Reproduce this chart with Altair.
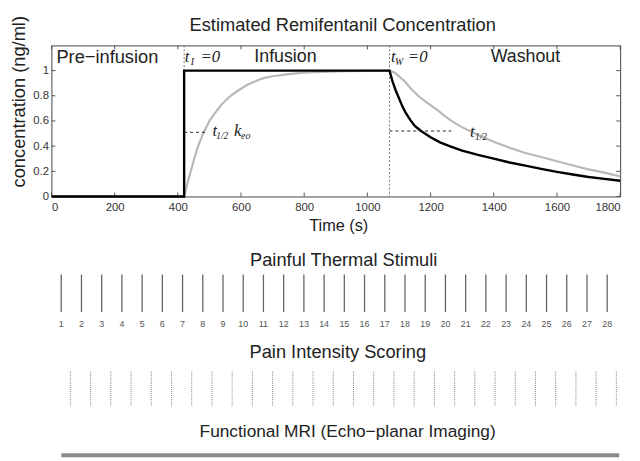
import altair as alt
import pandas as pd

# ---------------- data ----------------
black_t = [0, 420, 420, 1070, 1080, 1090, 1100, 1110, 1120, 1135, 1150, 1170, 1200, 1230,
           1260, 1300, 1350, 1400, 1450, 1500, 1550, 1600, 1650, 1700, 1750, 1800]
black_v = [0, 0, 1.0, 1.0, 0.91, 0.84, 0.78, 0.72, 0.67, 0.61, 0.56, 0.52, 0.47, 0.43,
           0.40, 0.365, 0.33, 0.30, 0.27, 0.245, 0.22, 0.195, 0.175, 0.155, 0.14, 0.125]

gray_t = [0, 420, 430, 441, 452, 462, 472, 483, 500, 515, 540, 567, 590, 619, 645, 671, 700,
          744, 790, 827, 880, 931, 1000, 1070, 1085, 1098, 1120, 1140, 1165, 1192, 1220, 1244,
          1270, 1296, 1348, 1400, 1452, 1500, 1556, 1600, 1660, 1700, 1750, 1800]
gray_v = [0, 0, 0.10, 0.20, 0.30, 0.385, 0.45, 0.515, 0.60, 0.655, 0.735, 0.80, 0.84, 0.885,
          0.915, 0.94, 0.955, 0.97, 0.982, 0.987, 0.992, 0.995, 0.998, 1.0, 0.985, 0.96, 0.91,
          0.85, 0.79, 0.74, 0.69, 0.64, 0.595, 0.555, 0.49, 0.435, 0.385, 0.345, 0.31, 0.28,
          0.24, 0.215, 0.19, 0.16]

x_ticks = [0, 200, 400, 600, 800, 1000, 1200, 1400, 1600, 1800]
y_ticks = [0, 0.2, 0.4, 0.6, 0.8, 1.0]

phase_t = [420, 1070]
half_start = [420, 1070]
half_end = [488, 1266]
half_level = [0.51, 0.52]

stim_t = [31, 95, 159, 223, 287, 351, 415, 479, 543, 607, 671, 735, 799, 863, 927, 991,
          1055, 1119, 1183, 1247, 1311, 1375, 1439, 1503, 1567, 1631, 1695, 1759]
stim_n = [str(i) for i in range(1, 29)]
rating_t = [60, 124, 188, 252, 316, 380, 444, 508, 572, 636, 700, 764, 828, 892, 956, 1020,
            1084, 1148, 1212, 1276, 1340, 1404, 1468, 1532, 1596, 1660, 1724, 1788]
fmri_start = [31]
fmri_end = [1797]

# ---------------- layout ----------------
W, H = 576, 153
OX, OY = 52, 43          # page position of the plot origin


def rx(x):
    return x - OX


def ry(y):
    return y - OY


SANS = "Liberation Sans"
SERIF = "Liberation Serif"

xs = alt.Scale(domain=[0, 1800], nice=False, zero=False)
ys = alt.Scale(domain=[0, 1.2], nice=False, zero=True)
xaxis = alt.Axis(values=x_ticks, ticks=False, domain=False, grid=False, labelFontSize=11.5,
                 labelFont=SANS, labelColor="#333", labelPadding=5, format="d", title=None)
yaxis = alt.Axis(values=y_ticks, ticks=False, domain=False, grid=False, labelFontSize=11.5,
                 labelFont=SANS, labelColor="#333", labelPadding=3, format="~g", title=None)


def X(f):
    return alt.X(f, type="quantitative", scale=xs, axis=xaxis, title=None)


def X2(f):
    return alt.X2(f)


def Y(f):
    return alt.Y(f, type="quantitative", scale=ys, axis=yaxis, title=None)


def txt(s, x, y, size=18, font=SANS, align="center", style="normal", angle=0, color="#222"):
    m = alt.Chart(alt.Data(values=[{}])).mark_text(
        text=s, fontSize=size, font=font, align=align, baseline="middle",
        fontStyle=style, color=color, angle=angle)
    return m.encode(x=alt.value(x), y=alt.value(y))


df_black = pd.DataFrame({"t": black_t, "v": black_v, "i": range(len(black_t))})
df_gray = pd.DataFrame({"t": gray_t, "v": gray_v, "i": range(len(gray_t))})
df_xt = pd.DataFrame({"t": x_ticks})
df_yt = pd.DataFrame({"v": y_ticks})
df_phase = pd.DataFrame({"t": phase_t})
df_half = pd.DataFrame({"t": half_start, "t2": half_end, "v": half_level})
df_stim = pd.DataFrame({"t": stim_t, "n": stim_n})
df_rate = pd.DataFrame({"t": rating_t})
df_fmri = pd.DataFrame({"t": fmri_start, "t2": fmri_end})

layers = []

# inward box ticks
tick_col = "#555"
layers.append(alt.Chart(df_xt).mark_rule(color=tick_col, strokeWidth=1).encode(
    x=X("t"), y=alt.value(H), y2=alt.value(H - 4)))
layers.append(alt.Chart(df_xt).mark_rule(color=tick_col, strokeWidth=1).encode(
    x=X("t"), y=alt.value(0), y2=alt.value(4)))
layers.append(alt.Chart(df_yt).mark_rule(color=tick_col, strokeWidth=1).encode(
    y=Y("v"), x=alt.value(0), x2=alt.value(4)))
layers.append(alt.Chart(df_yt).mark_rule(color=tick_col, strokeWidth=1).encode(
    y=Y("v"), x=alt.value(W), x2=alt.value(W - 4)))

# phase boundaries (dotted)
layers.append(alt.Chart(df_phase).mark_rule(color="#777", strokeWidth=1, strokeDash=[2, 2]).encode(
    x=X("t"), y=alt.value(0), y2=alt.value(H)))

# curves
layers.append(alt.Chart(df_gray).mark_line(color="#b8b8b8", strokeWidth=2.2).encode(
    x=X("t"), y=Y("v"), order=alt.Order("i:Q")))
layers.append(alt.Chart(df_black).mark_line(color="#000", strokeWidth=2.4).encode(
    x=X("t"), y=Y("v"), order=alt.Order("i:Q")))

# half-life dashed lines
layers.append(alt.Chart(df_half).mark_rule(color="#222", strokeWidth=1, strokeDash=[3, 3]).encode(
    x=X("t"), x2=X2("t2"), y=Y("v")))

# lower panels
layers.append(alt.Chart(df_stim).mark_rule(color="#666", strokeWidth=1.3).encode(
    x=X("t"), y=alt.value(ry(275)), y2=alt.value(ry(313))))
layers.append(alt.Chart(df_stim).mark_text(fontSize=9, font=SANS, color="#555",
                                            baseline="middle").encode(
    x=X("t"), y=alt.value(ry(325)), text="n:N"))
layers.append(alt.Chart(df_rate).mark_rule(color="#888", strokeWidth=1, strokeDash=[1, 1]).encode(
    x=X("t"), y=alt.value(ry(373)), y2=alt.value(ry(409))))
layers.append(alt.Chart(df_fmri).mark_rect(color="#8a8a8a").encode(
    x=X("t"), x2=X2("t2"), y=alt.value(ry(456)), y2=alt.value(ry(460))))

# titles and annotations
layers += [
    txt("Estimated Remifentanil Concentration", rx(347), ry(22), 18.5),
    txt("concentration (ng/ml)", rx(19.5), ry(100), 18.5, angle=270),
    txt("Time (s)", rx(343), ry(226), 16.5),
    txt("Painful Thermal Stimuli", rx(348), ry(260), 18.5),
    txt("Pain Intensity Scoring", rx(342), ry(354), 18.5),
    txt("Functional MRI (Echo\u2212planar Imaging)", rx(352), ry(435), 17.5),
    txt("Pre\u2212infusion", rx(57), ry(55), 18.5, align="left"),
    txt("Infusion", rx(289), ry(55), 18),
    txt("Washout", rx(532), ry(55), 18),
    # t_I = 0
    txt("t", rx(187), ry(55), 17, SERIF, "left", "italic"),
    txt("I", rx(193), ry(60), 10, SERIF, "left", "italic"),
    txt("=0", rx(203), ry(55), 17, SERIF, "left", "italic"),
    # t_W = 0
    txt("t", rx(396), ry(55), 17, SERIF, "left", "italic"),
    txt("W", rx(400), ry(60), 10, SERIF, "left", "italic"),
    txt("=0", rx(413), ry(55), 17, SERIF, "left", "italic"),
    # t_1/2 k_eo
    txt("t", rx(215), ry(130), 17, SERIF, "left", "italic"),
    txt("1/2", rx(219), ry(135), 9.5, SERIF, "left", "italic"),
    txt("k", rx(237), ry(130), 17, SERIF, "left", "italic"),
    txt("eo", rx(244), ry(135), 10, SERIF, "left", "italic"),
    # washout t_1/2
    txt("t", rx(476), ry(131), 17, SERIF, "left", "italic"),
    txt("1/2", rx(481), ry(136), 9.5, SERIF, "left", "italic"),
]

chart = alt.layer(*layers).properties(
    width=W, height=H,
    autosize=alt.AutoSizeParams(type="none"),
    padding={"left": OX - 8, "top": OY - 8, "right": 12, "bottom": 461 - OY - H},
    background="white",
).configure_view(stroke="#444", strokeWidth=1)

chart.save("out.html", embed_options={"renderer": "svg", "actions": False})
